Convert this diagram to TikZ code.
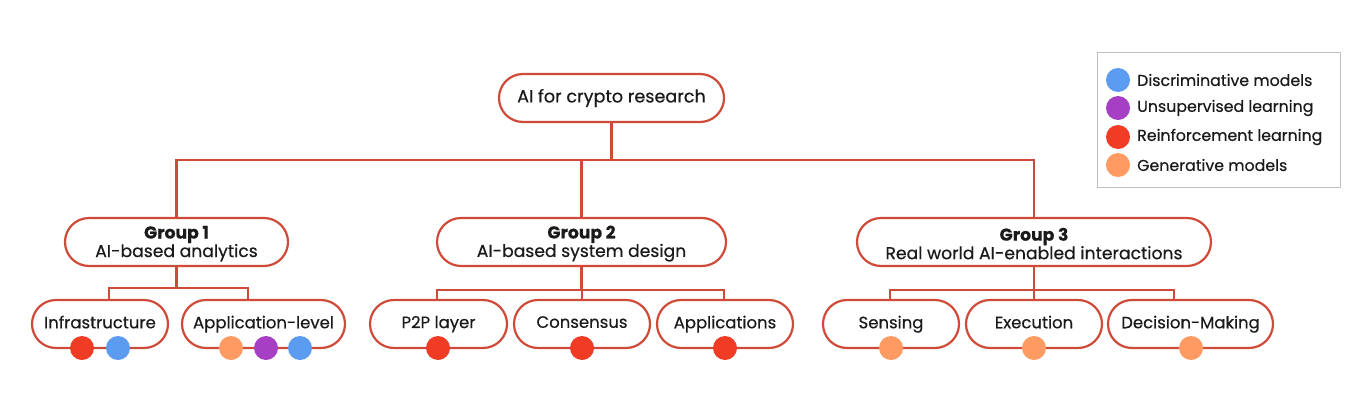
\documentclass[tikz,border=0pt]{standalone}
\usepackage{fontspec}
\setmainfont{Poppins}[FakeBold=0.4]
\definecolor{edge}{HTML}{CF4A38}
\definecolor{cblue}{HTML}{5B9BF0}
\definecolor{cpurple}{HTML}{A73FC4}
\definecolor{cred}{HTML}{F03C24}
\definecolor{corange}{HTML}{FF9A62}
\definecolor{txt}{HTML}{1A1A1A}
\newcommand{\grp}[2]{\rule{0pt}{16pt}\textbf{#1}\\#2}
\tikzset{
  pill/.style={draw=edge, line width=2.2pt, fill=white, rounded corners=24pt, inner sep=0pt, text=txt, align=center},
  conn/.style={draw=edge, line width=2.2pt},
  dot/.style={circle, inner sep=0pt, minimum size=24pt},
  leg/.style={anchor=west, text=txt, font=\fontsize{15.8}{17}\selectfont, inner sep=0pt},
  grpbox/.style={pill, minimum height=48pt, font=\fontsize{17.2}{18.5}\selectfont},
  child/.style={pill, minimum height=48pt, font=\fontsize{16.5}{18}\selectfont, text depth=0pt},
}
\begin{document}
\begin{tikzpicture}[x=1pt,y=-1pt]
\useasboundingbox[fill=white] (0,0) rectangle (1362,415);
% root
\node[pill, minimum width=225pt, minimum height=48pt, font=\fontsize{17.6}{20}\selectfont] (root) at (611.5,98) {\raisebox{-1pt}{AI for crypto research}};
% groups
\node[grpbox, minimum width=223pt] (g1) at (176.5,242) {\grp{Group 1}{AI-based analytics}};
\node[grpbox, minimum width=289pt] (g2) at (581.5,242) {\grp{Group 2}{AI-based system design}};
\node[grpbox, minimum width=354pt] (g3) at (1034,242) {\grp{Group 3}{Real world AI-enabled interactions}};
% children
\node[child, minimum width=136pt] (inf) at (100,324) {\raisebox{4pt}{Infrastructure}};
\node[child, minimum width=163pt] (app) at (263.5,324) {\raisebox{4pt}{Application-level}};
\node[child, minimum width=137pt] (p2p) at (438.5,324) {\raisebox{4pt}{P2P layer}};
\node[child, minimum width=136pt] (cons) at (582,324) {\raisebox{4pt}{Consensus}};
\node[child, minimum width=136pt] (appl) at (725,324) {\raisebox{4pt}{Applications}};
\node[child, minimum width=136pt] (sens) at (891,324) {\raisebox{4pt}{Sensing}};
\node[child, minimum width=136pt] (exec) at (1034,324) {\raisebox{4pt}{Execution}};
\node[child, minimum width=165pt] (dec) at (1190.5,324) {\raisebox{4pt}{Decision-Making}};
% connectors level 1
\coordinate (bus) at (611.5,160);
\draw[conn] (root.south) -- (bus);
\draw[conn] (g1.north) |- (bus) -| (g3.north);
\draw[conn] (g2.north) -- (g2.north |- bus);
% group 1 children
\draw[conn] (g1.south) -- ++(0,21) coordinate (b1);
\draw[conn] ([xshift=9pt]inf.north) |- (b1) -| ([xshift=-15.5pt]app.north);
% group 2 children
\draw[conn] (g2.south) -- ++(0,23) coordinate (b2);
\draw[conn] ([xshift=-1.5pt]p2p.north) |- (b2) -| ([xshift=-1pt]appl.north);
\draw[conn] (cons.north) -- (cons.north |- b2);
% group 3 children
\draw[conn] (g3.south) -- ++(0,23) coordinate (b3);
\draw[conn] ([xshift=-1pt]sens.north) |- (b3) -| ([xshift=-16.5pt]dec.north);
\draw[conn] (exec.north) -- (exec.north |- b3);
% dots
\node[dot, fill=cred] (d1) at (82,348) {};
\node[dot, fill=cblue] (d2) at (118,348) {};
\node[dot, fill=corange] (d3) at (231,348) {};
\node[dot, fill=cpurple] (d4) at (266,348) {};
\node[dot, fill=cblue] (d5) at (300,348) {};
\node[dot, fill=cred] (d6) at (438,348) {};
\node[dot, fill=cred] (d7) at (582,348) {};
\node[dot, fill=cred] (d8) at (725,348) {};
\node[dot, fill=corange] (d9) at (891,348) {};
\node[dot, fill=corange] (d10) at (1034,348) {};
\node[dot, fill=corange] (d11) at (1191,348) {};
% legend
\node[draw=black!25, line width=0.8pt, minimum width=243pt, minimum height=135pt, inner sep=0pt] (legbox) at (1218.5,119.5) {};
\node[dot, fill=cblue] (l1) at (1118,80) {};
\node[dot, fill=cpurple] (l2) at (1118,108) {};
\node[dot, fill=cred] (l3) at (1118,137) {};
\node[dot, fill=corange] (l4) at (1118,165) {};
\node[leg] (t1) at (1137,80) {Discriminative models};
\node[leg] (t2) at (1137,108) {Unsupervised learning};
\node[leg] (t3) at (1137,137) {Reinforcement learning};
\node[leg] (t4) at (1137,165) {Generative models};
\end{tikzpicture}
\end{document}
